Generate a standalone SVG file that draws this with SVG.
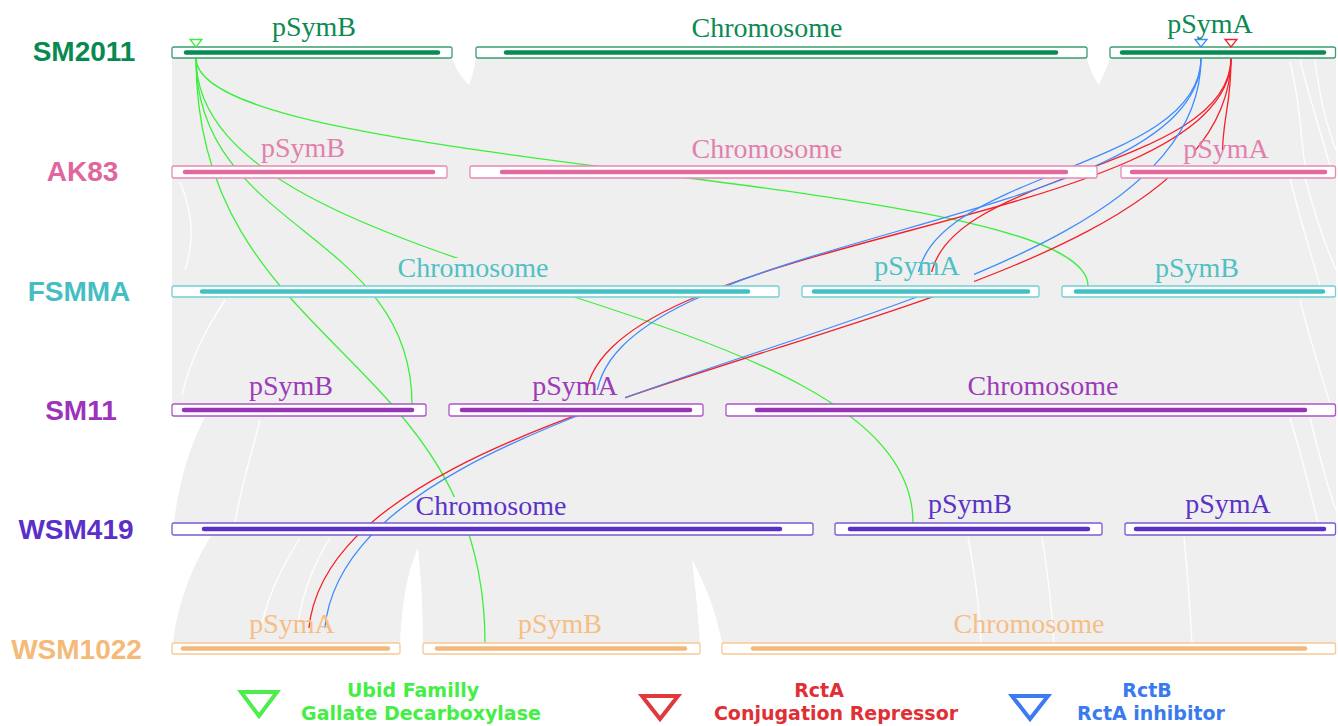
<svg xmlns="http://www.w3.org/2000/svg" width="1338" height="726" viewBox="0 0 1338 726">
<style>
.name{font-family:"Liberation Sans",Arial,sans-serif;font-weight:bold;font-size:28px;text-anchor:middle}
.lbl{font-family:"Liberation Serif","Times New Roman",serif;font-size:28px;text-anchor:middle}
.box{fill:#fff;stroke-width:1.3}
.bar{stroke-width:4.5;stroke-linecap:round}
.lk{fill:none;stroke-width:1.3}
.g{stroke:#3cef3c}
.r{stroke:#f5202a}
.b{stroke:#3d8cff}
.leg{font-family:"DejaVu Sans",sans-serif;font-weight:bold;font-size:19px;text-anchor:middle}
.streak{fill:none;stroke:#fff;stroke-width:1.4;opacity:.9}
.bg{fill:#efefef}
.wh{fill:#fff}
.tri{fill:none;stroke-width:1.3}
.ltri{fill:none;stroke-width:4}
</style>
<rect width="1338" height="726" fill="#fff"/>
<g id="ribbons">
<rect class="bg" x="172" y="58" width="1164" height="585"/>
<path class="wh" d="M452,58 L476,58 C474,70 472,78 469,85 C462,78 456,70 452,58 Z"/>
<path class="wh" d="M1087,58 L1110,58 C1106,70 1102,78 1099,85 C1094,78 1090,70 1087,58 Z"/>
<path class="wh" d="M172,417 L205,417 C190,445 178,485 174,523 L172,523 Z"/>
<path class="wh" d="M172,535 L212,535 C195,560 178,600 173,643 L172,643 Z"/>
<path class="wh" d="M400,643 C402,600 408,570 418,548 C421,578 423,610 423,643 Z"/>
<path class="wh" d="M700,643 C698,612 695,585 692,560 C706,585 716,612 722,643 Z"/>
<path class="streak" d="M1300,60 C1310,100 1320,130 1330,166"/>
<path class="streak" d="M1315,60 C1320,100 1328,130 1336,150"/>
<path class="streak" d="M1290,62 C1300,100 1300,130 1305,166"/>
<path class="streak" d="M1290,178 C1300,220 1310,250 1320,286"/>
<path class="streak" d="M1305,178 C1315,215 1325,245 1336,270"/>
<path class="streak" d="M180,182 C192,210 195,240 185,270"/>
<path class="streak" d="M225,300 C205,330 190,360 182,395"/>
<path class="streak" d="M1300,300 C1310,340 1320,370 1330,404"/>
<path class="streak" d="M1290,418 C1300,450 1310,490 1318,523"/>
<path class="streak" d="M1310,418 C1318,450 1328,490 1336,510"/>
<path class="streak" d="M260,420 C250,460 240,490 235,523"/>
<path class="streak" d="M968,537 C975,575 980,610 981,643"/>
<path class="streak" d="M1042,537 C1048,575 1052,610 1054,643"/>
<path class="streak" d="M1184,537 C1188,575 1190,610 1192,643"/>
<path class="streak" d="M300,538 C280,570 265,600 258,643"/>
<path class="streak" d="M330,538 C310,570 300,600 295,643"/>
</g>
<g id="connectors">
<path class="lk g" d="M196,58 C196,172 1088,172 1088,286"/>
<path class="lk g" d="M196,58 C196,231 412,231 412,404"/>
<path class="lk g" d="M196,58 C196,290.5 913,290.5 913,523"/>
<path class="lk g" d="M196,58 C196,350.5 485,350.5 485,643"/>
<path class="lk r" d="M1231,58 C1231,112 1222,112 1222,166"/>
<path class="lk r" d="M1231,58 C1231,172 930,172 930,286"/>
<path class="lk r" d="M1231,58 C1231,231 585,231 585,404"/>
<path class="lk r" d="M1231,58 C1231,350.5 308,350.5 308,643"/>
<path class="lk b" d="M1201,58 C1201,172 917,172 917,286"/>
<path class="lk b" d="M1201,58 C1201,231 596,231 596,404"/>
<path class="lk b" d="M1201,58 C1201,350.5 324,350.5 324,643"/>
</g>
<g id="label-backs">
<rect class="bg" x="1170" y="150" width="112" height="16"/>
<rect class="bg" x="385" y="258" width="180" height="28"/>
<rect class="bg" x="860" y="272" width="114" height="14"/>
<rect class="bg" x="520" y="390" width="105" height="14"/>
<rect class="bg" x="425" y="497" width="150" height="26"/>
<rect class="bg" x="240" y="628" width="105" height="15"/>
</g>
<g id="SM2011">
<text class="name" x="84" y="61" fill="#078a4f">SM2011</text>
<rect class="box" x="172" y="47" width="280" height="11" rx="2" stroke="#3a9e70"/>
<rect class="box" x="476" y="47" width="611" height="11" rx="2" stroke="#3a9e70"/>
<rect class="box" x="1110" y="47" width="225.5" height="11" rx="2" stroke="#3a9e70"/>
<line class="bar" x1="186" y1="52.5" x2="438" y2="52.5" stroke="#078b52"/>
<line class="bar" x1="506" y1="52.5" x2="1056" y2="52.5" stroke="#078b52"/>
<line class="bar" x1="1122" y1="52.5" x2="1324" y2="52.5" stroke="#078b52"/>
<text class="lbl" x="314" y="36" fill="#0b8a52">pSymB</text>
<text class="lbl" x="767" y="37" fill="#0b8a52">Chromosome</text>
<text class="lbl" x="1210" y="33" fill="#0b8a52">pSymA</text>
<polygon class="tri" points="190,39.5 202,39.5 196,47" stroke="#3cef3c"/>
<polygon class="tri" points="1195,39.5 1207,39.5 1201,47" stroke="#3d8cff"/>
<polygon class="tri" points="1225,39.5 1237,39.5 1231,47" stroke="#f5202a"/>
</g>
<g id="AK83">
<text class="name" x="82.5" y="181" fill="#e066a0">AK83</text>
<rect class="box" x="172" y="166" width="275" height="12" rx="2" stroke="#e889b5"/>
<rect class="box" x="470" y="166" width="627" height="12" rx="2" stroke="#e889b5"/>
<rect class="box" x="1121" y="166" width="214.5" height="12" rx="2" stroke="#e889b5"/>
<line class="bar" x1="185" y1="172" x2="433" y2="172" stroke="#de6aa0"/>
<line class="bar" x1="502" y1="172" x2="1066" y2="172" stroke="#de6aa0"/>
<line class="bar" x1="1132" y1="172" x2="1325" y2="172" stroke="#de6aa0"/>
<text class="lbl" x="303" y="157" fill="#e27fad">pSymB</text>
<text class="lbl" x="767" y="158" fill="#e27fad">Chromosome</text>
<text class="lbl" x="1226" y="158" fill="#e27fad">pSymA</text>
</g>
<g id="FSMMA">
<text class="name" x="79" y="301" fill="#45bec3">FSMMA</text>
<rect class="box" x="172" y="286" width="607" height="11" rx="2" stroke="#72cfd3"/>
<rect class="box" x="802" y="286" width="237" height="11" rx="2" stroke="#72cfd3"/>
<rect class="box" x="1062" y="286" width="273.5" height="11" rx="2" stroke="#72cfd3"/>
<line class="bar" x1="202" y1="291.5" x2="748" y2="291.5" stroke="#44c0c5"/>
<line class="bar" x1="814" y1="291.5" x2="1028" y2="291.5" stroke="#44c0c5"/>
<line class="bar" x1="1076" y1="291.5" x2="1323" y2="291.5" stroke="#44c0c5"/>
<text class="lbl" x="473" y="277" fill="#4fc1c5">Chromosome</text>
<text class="lbl" x="917" y="275" fill="#4fc1c5">pSymA</text>
<text class="lbl" x="1197" y="277" fill="#4fc1c5">pSymB</text>
</g>
<g id="SM11">
<text class="name" x="81" y="420" fill="#9c33ba">SM11</text>
<rect class="box" x="172" y="404" width="254" height="12" rx="2" stroke="#ab55c8"/>
<rect class="box" x="449" y="404" width="254" height="12" rx="2" stroke="#ab55c8"/>
<rect class="box" x="726" y="404" width="609.5" height="12" rx="2" stroke="#ab55c8"/>
<line class="bar" x1="184" y1="410" x2="412" y2="410" stroke="#9933b8"/>
<line class="bar" x1="462" y1="410" x2="690" y2="410" stroke="#9933b8"/>
<line class="bar" x1="757" y1="410" x2="1305" y2="410" stroke="#9933b8"/>
<text class="lbl" x="291" y="395" fill="#9c3bb9">pSymB</text>
<text class="lbl" x="575" y="395" fill="#9c3bb9">pSymA</text>
<text class="lbl" x="1043" y="395" fill="#9c3bb9">Chromosome</text>
</g>
<g id="WSM419">
<text class="name" x="76" y="539" fill="#5b2fc9">WSM419</text>
<rect class="box" x="172" y="523" width="641" height="12" rx="2" stroke="#7a5ad3"/>
<rect class="box" x="835" y="523" width="267" height="12" rx="2" stroke="#7a5ad3"/>
<rect class="box" x="1125" y="523" width="210.5" height="12" rx="2" stroke="#7a5ad3"/>
<line class="bar" x1="204" y1="529" x2="780" y2="529" stroke="#5a30c9"/>
<line class="bar" x1="850" y1="529" x2="1088" y2="529" stroke="#5a30c9"/>
<line class="bar" x1="1136" y1="529" x2="1324" y2="529" stroke="#5a30c9"/>
<text class="lbl" x="491" y="515" fill="#5b33c9">Chromosome</text>
<text class="lbl" x="970" y="513" fill="#5b33c9">pSymB</text>
<text class="lbl" x="1228" y="513" fill="#5b33c9">pSymA</text>
</g>
<g id="WSM1022">
<text class="name" x="76.5" y="659" fill="#f5b978">WSM1022</text>
<rect class="box" x="172" y="643" width="228" height="11" rx="2" stroke="#f8c994"/>
<rect class="box" x="423" y="643" width="277" height="11" rx="2" stroke="#f8c994"/>
<rect class="box" x="722" y="643" width="613.5" height="11" rx="2" stroke="#f8c994"/>
<line class="bar" x1="183" y1="648.5" x2="388" y2="648.5" stroke="#f3b97c"/>
<line class="bar" x1="437" y1="648.5" x2="685" y2="648.5" stroke="#f3b97c"/>
<line class="bar" x1="753" y1="648.5" x2="1305" y2="648.5" stroke="#f3b97c"/>
<text class="lbl" x="292" y="633" fill="#f6be84">pSymA</text>
<text class="lbl" x="560" y="633" fill="#f6be84">pSymB</text>
<text class="lbl" x="1029" y="633" fill="#f6be84">Chromosome</text>
</g>
<g id="legend">
<polygon class="ltri" points="241,692 277,692 259,716" stroke="#4cee4c"/>
<text class="leg" x="413" y="697" fill="#45ee45">Ubid Familly</text>
<text class="leg" x="421" y="720" fill="#45ee45">Gallate Decarboxylase</text>
<polygon class="ltri" points="642,696 678,696 660,719" stroke="#e0383c"/>
<text class="leg" x="819" y="697" fill="#e03035">RctA</text>
<text class="leg" x="836" y="720" fill="#e03035">Conjugation Repressor</text>
<polygon class="ltri" points="1012,696 1048,696 1030,719" stroke="#3c7cf0"/>
<text class="leg" x="1147" y="697" fill="#3a7af0">RctB</text>
<text class="leg" x="1151" y="720" fill="#3a7af0">RctA inhibitor</text>
</g>
</svg>
